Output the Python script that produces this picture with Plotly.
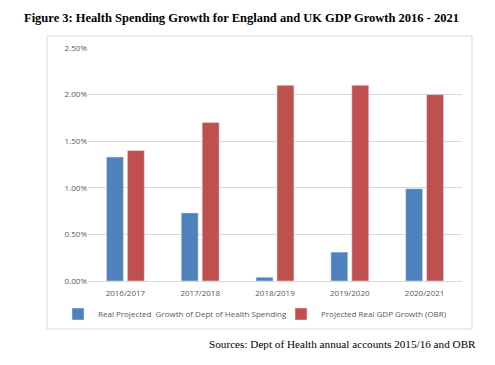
import plotly.graph_objects as go

categories = ["2016/2017", "2017/2018", "2018/2019", "2019/2020", "2020/2021"]
health_spending = [1.33, 0.73, 0.04, 0.31, 0.99]
gdp_growth = [1.40, 1.70, 2.10, 2.10, 2.00]
y_ticks = [0, 0.5, 1.0, 1.5, 2.0, 2.5]
y_tick_labels = ["0.00%", "0.50%", "1.00%", "1.50%", "2.00%", "2.50%"]

fig = go.Figure()
fig.add_trace(go.Bar(x=categories, y=health_spending,
                     name="Real Projected  Growth of Dept of Health Spending",
                     marker_color="#4F81BD", legend="legend"))
fig.add_trace(go.Bar(x=categories, y=gdp_growth,
                     name="Projected Real GDP Growth (OBR)",
                     marker_color="#C0504D", legend="legend2"))

# page body has an 8px margin; work in screen coords and subtract it
OFF = 8
W, H = 495 - OFF, 365 - OFF
L, R, T, B = 88 - OFF, 462 - OFF, 48 - OFF, 281 - OFF
pw, ph = R - L, B - T

def px(x):
    return (x - OFF - L) / pw

def py(y):
    return (B - (y - OFF)) / ph

def cx(x):
    return (x - OFF) / W

def cy(y):
    return (H - (y - OFF)) / H

legend_common = dict(orientation="h", xref="container", yref="container",
                     xanchor="left", yanchor="middle",
                     font=dict(size=8, color="#595959"), itemwidth=30,
                     bgcolor="rgba(0,0,0,0)")

fig.update_layout(
    width=W, height=H,
    margin=dict(l=L, r=W - R, t=T, b=H - B, pad=0, autoexpand=False),
    paper_bgcolor="white", plot_bgcolor="white",
    barmode="group", bargap=0.44, bargroupgap=0.19,
    font=dict(family="Open Sans, Liberation Sans, sans-serif", size=8, color="#595959"),
    showlegend=True,
    legend=dict(x=cx(58), y=cy(314), **legend_common),
    legend2=dict(x=cx(281), y=cy(314), **legend_common),
    xaxis=dict(showgrid=False, showline=True, linecolor="#D9D9D9", linewidth=1,
               ticks="", tickfont=dict(size=8, color="#595959"), fixedrange=True,
               ticklabelstandoff=4),
    yaxis=dict(range=[0, 2.5], tickvals=y_ticks, ticktext=y_tick_labels,
               showgrid=True, gridcolor="#D9D9D9", gridwidth=1, zeroline=False,
               ticks="", ticklen=0, tickfont=dict(size=8, color="#595959"),
               showline=False),
    shapes=[dict(type="rect", xref="paper", yref="paper",
                 x0=px(47), x1=px(472), y0=py(329), y1=py(36),
                 line=dict(color="#D9D9D9", width=1), fillcolor="rgba(0,0,0,0)",
                 layer="below")],
    annotations=[
        dict(text="<b>Figure 3: Health Spending Growth for England and UK GDP Growth 2016 - 2021</b>",
             xref="paper", yref="paper", x=px(241), y=py(18), xanchor="center", yanchor="middle",
             showarrow=False, font=dict(family="Liberation Serif, Times New Roman, serif", size=12.5, color="#000000")),
        dict(text="Sources: Dept of Health annual accounts 2015/16 and OBR",
             xref="paper", yref="paper", x=px(478), y=py(344), xanchor="right", yanchor="middle",
             showarrow=False, font=dict(family="Liberation Serif, Times New Roman, serif", size=11.2, color="#000000")),
    ],
)

fig.write_html("out.html")
